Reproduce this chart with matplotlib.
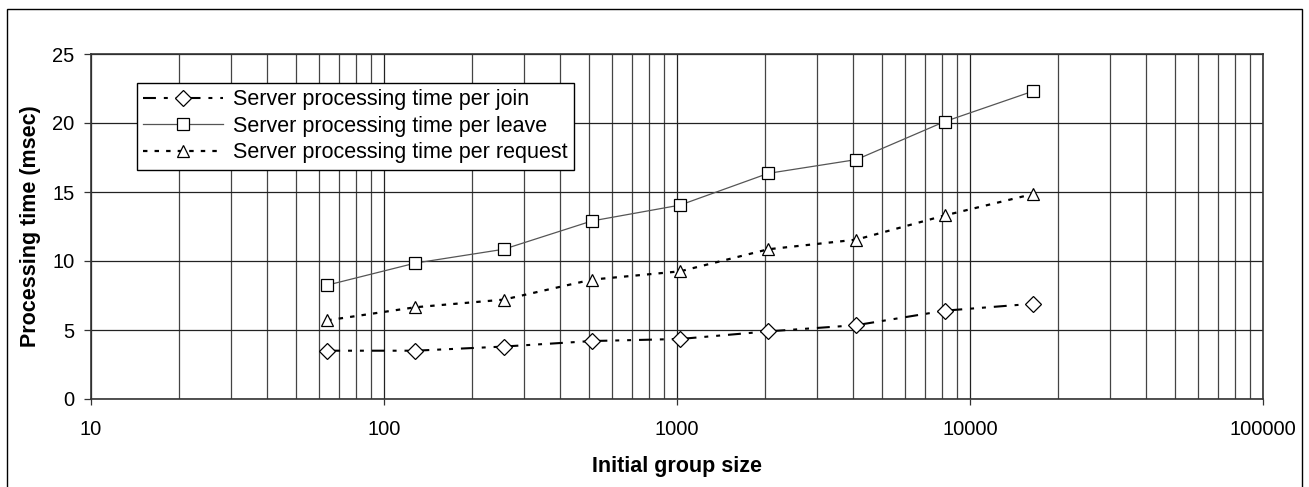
import numpy as np
import matplotlib
matplotlib.use('Agg')
import matplotlib.pyplot as plt
from matplotlib.ticker import LogLocator, FixedLocator, NullFormatter
from matplotlib.patches import Rectangle

plt.rcParams['font.family'] = ['Liberation Sans', 'DejaVu Sans']

# Data
group_size = [64, 128, 256, 512, 1024, 2048, 4096, 8192, 16384]
join_time = [3.5, 3.5, 3.8, 4.2, 4.35, 4.9, 5.35, 6.4, 6.9]
leave_time = [8.25, 9.85, 10.85, 12.9, 14.05, 16.35, 17.35, 20.1, 22.3]
request_time = [5.7, 6.65, 7.2, 8.65, 9.25, 10.85, 11.55, 13.3, 14.85]

labels = ['Server processing time per join',
          'Server processing time per leave',
          'Server processing time per request']

W, H = 1309, 487
fig = plt.figure(figsize=(W / 100, H / 100), dpi=100)
ax_l, ax_r, ax_t, ax_b = 91, 1263, 54, 399
ax = fig.add_axes([ax_l / W, 1 - ax_b / H, (ax_r - ax_l) / W, (ax_b - ax_t) / H])

# outer frame (bottom edge is cut off in the original)
fig.patches.append(Rectangle((7 / W, -0.05), (1302 - 7) / W, 1.05 - 9 / H,
                             transform=fig.transFigure, fill=False,
                             edgecolor='black', linewidth=1.0))

mk = dict(markerfacecolor='white', markeredgecolor='black', markeredgewidth=0.9)
ax.plot(group_size, join_time, color='black', linewidth=1.5,
        dashes=(6.2, 3.8, 1.9, 3.8, 1.9, 3.8), marker='D', markersize=7.8,
        label=labels[0], **mk)
ax.plot(group_size, leave_time, color='#555555', linewidth=0.9,
        linestyle='-', marker='s', markersize=8, label=labels[1], **mk)
ax.plot(group_size, request_time, color='black', linewidth=1.6,
        dashes=(2.0, 3.2), marker='^', markersize=9, label=labels[2], **mk)

ax.set_xscale('log')
ax.set_xlim(10, 100000)
ax.set_ylim(0, 25)
ax.yaxis.set_major_locator(FixedLocator([0, 5, 10, 15, 20, 25]))
ax.xaxis.set_major_locator(LogLocator(base=10, numticks=10))
ax.xaxis.set_minor_locator(LogLocator(base=10, subs=np.arange(2, 10), numticks=100))
ax.xaxis.set_minor_formatter(NullFormatter())
ax.xaxis.set_major_formatter(plt.FuncFormatter(lambda v, p: '%d' % v))

ax.grid(True, which='major', axis='both', color='#222222', linewidth=0.9)
ax.grid(True, which='minor', axis='x', color='#444444', linewidth=0.9)
ax.tick_params(axis='both', which='major', labelsize=14.5, width=0.9,
               direction='out', color='#333333')
ax.tick_params(axis='x', which='major', length=4, pad=11)
ax.tick_params(axis='y', which='major', length=5, pad=7)
ax.tick_params(axis='x', which='minor', length=0)
for s in ax.spines.values():
    s.set_color('#333333')
    s.set_linewidth(1.2)

ax.set_xlabel('Initial group size', fontsize=15.5, fontweight='bold')
ax.set_ylabel('Processing time (msec)', fontsize=15.5, fontweight='bold')
ax.xaxis.set_label_coords(0.5, (ax_b - 456) / (ax_b - ax_t))
ax.yaxis.set_label_coords((41 - ax_l) / (ax_r - ax_l), 0.5)

leg = ax.legend(loc='upper left',
                bbox_to_anchor=((137 - ax_l) / (ax_r - ax_l), (ax_b - 83) / (ax_b - ax_t)),
                fontsize=15.5, frameon=True, fancybox=False, framealpha=1,
                edgecolor='black', borderpad=0.3, labelspacing=0.25,
                handlelength=3.7, handletextpad=0.45, borderaxespad=0)
leg.get_frame().set_linewidth(1.0)

fig.savefig('out.png', dpi=100)
